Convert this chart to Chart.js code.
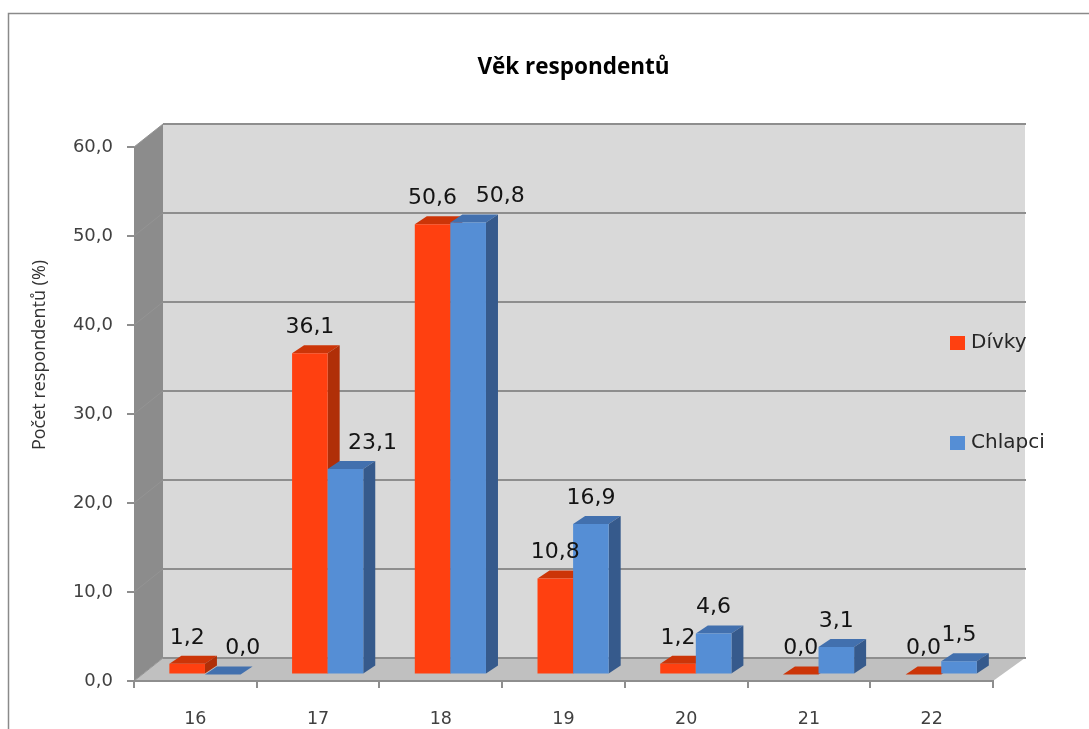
<!DOCTYPE html>
<html>
<head>
<meta charset="utf-8">
<title>Věk respondentů</title>
<script src="https://cdn.jsdelivr.net/npm/chart.js@4"></script>
<style>
  body { margin: 0; background: #fff; }
  canvas { display: block; }
</style>
</head>
<body>
<canvas id="ageChart" width="1089" height="729"></canvas>
<script>
// Data
const ages = ['16', '17', '18', '19', '20', '21', '22'];
const divky = [1.2, 36.1, 50.6, 10.8, 1.2, 0.0, 0.0];
const chlapci = [0.0, 23.1, 50.8, 16.9, 4.6, 3.1, 1.5];
const seriesNames = ['Dívky', 'Chlapci'];
const axisTitle = 'Počet respondentů (%)';

// Fake 3D look
const wallShift = { x: 29, y: -23 };   // front plane -> back wall
const barShift = { x: 9.6, y: -6.5 };  // front plane -> bar fronts
const barDepth = { x: 12, y: -8 };
const lineGrey = '#8e8e8e';
const faces = [
  { front: '#ff4010', side: '#b02f08', top: '#cc3508' },
  { front: '#558ed5', side: '#365a8c', top: '#4270ae' }
];
// a few value labels were dragged to the right so they don't collide
const labelNudge = { '1:0': 20, '1:1': 27, '1:2': 32 };
const LABEL_FONT = '"DejaVu Sans"';

function poly(ctx, pts, color) {
  ctx.fillStyle = color;
  ctx.beginPath();
  pts.forEach((p, i) => i ? ctx.lineTo(p[0], p[1]) : ctx.moveTo(p[0], p[1]));
  ctx.closePath();
  ctx.fill();
}

const walls = {
  id: 'walls',
  afterLayout(chart) {
    // title sits a bit right of the plot centre
    chart.titleBlock.left += 10;
    chart.titleBlock.right += 10;
  },
  beforeDraw(chart) {
    const { ctx, chartArea: a, scales: { y } } = chart;
    const dx = wallShift.x, dy = wallShift.y;
    const backR = a.right + 32;
    ctx.save();

    // outer frame
    ctx.strokeStyle = '#8a8a8a';
    ctx.lineWidth = 1.5;
    ctx.beginPath();
    ctx.moveTo(8.5, 729);
    ctx.lineTo(8.5, 13.5);
    ctx.lineTo(1089, 13.5);
    ctx.stroke();

    poly(ctx, [[a.left + dx, a.top + dy], [backR, a.top + dy], [backR, a.bottom + dy], [a.left + dx, a.bottom + dy]], '#d9d9d9');
    poly(ctx, [[a.left, a.top], [a.left + dx, a.top + dy], [a.left + dx, a.bottom + dy], [a.left, a.bottom]], '#8c8c8c');
    poly(ctx, [[a.left, a.bottom], [a.left + dx, a.bottom + dy], [backR, a.bottom + dy], [a.right, a.bottom]], '#c0c0c0');

    // gridlines on the back wall and their faint run along the side wall
    y.ticks.forEach(t => {
      const py = y.getPixelForValue(t.value);
      ctx.strokeStyle = '#949494';
      ctx.lineWidth = 1;
      ctx.beginPath();
      ctx.moveTo(a.left, py);
      ctx.lineTo(a.left + dx, py + dy);
      ctx.stroke();
      ctx.strokeStyle = lineGrey;
      ctx.lineWidth = 2;
      ctx.beginPath();
      ctx.moveTo(a.left + dx, py + dy);
      ctx.lineTo(backR + 1, py + dy);
      ctx.stroke();
    });
    ctx.restore();
  },
  beforeDatasetsDraw(chart) {
    const { ctx } = chart;
    const metas = chart.getSortedVisibleDatasetMetas();
    ctx.save();
    ctx.translate(barShift.x, barShift.y);
    // left series first so the right one covers its side face
    metas.forEach(meta => {
      const c = faces[meta.index];
      meta.data.forEach(bar => {
        const l = bar.x - bar.width / 2, r = bar.x + bar.width / 2;
        const dx = barDepth.x, dy = barDepth.y;
        poly(ctx, [[l, bar.y], [r, bar.y], [r + dx, bar.y + dy], [l + dx, bar.y + dy]], c.top);
        if (bar.base - bar.y > 0.5) {
          poly(ctx, [[r, bar.y], [r + dx, bar.y + dy], [r + dx, bar.base + dy], [r, bar.base]], c.side);
        }
      });
      meta.controller.draw();
    });

    // value labels with decimal comma
    ctx.font = '22px ' + LABEL_FONT;
    ctx.fillStyle = '#141414';
    ctx.textAlign = 'center';
    ctx.textBaseline = 'middle';
    metas.forEach(meta => {
      meta.data.forEach((bar, i) => {
        const v = chart.data.datasets[meta.index].data[i];
        const nudge = labelNudge[meta.index + ':' + i] || 0;
        ctx.fillText(v.toFixed(1).replace('.', ','), bar.x + nudge, bar.y - 26);
      });
    });
    ctx.restore();

    // axis title stands off-centre, so it is placed by hand
    ctx.save();
    ctx.translate(40, 355);
    ctx.rotate(-Math.PI / 2);
    ctx.font = '18px "Open Sans"';
    ctx.fillStyle = '#333';
    ctx.textAlign = 'center';
    ctx.textBaseline = 'middle';
    ctx.fillText(axisTitle, 0, 0);
    ctx.restore();

    // legend floats over the wall
    ctx.save();
    ctx.font = '20px ' + LABEL_FONT;
    ctx.textBaseline = 'middle';
    chart.data.datasets.forEach((ds, i) => {
      const ly = 343 + i * 100;
      ctx.fillStyle = ds.backgroundColor;
      ctx.fillRect(950, ly - 7, 15, 14);
      ctx.fillStyle = '#262626';
      ctx.fillText(ds.label, 971, ly);
    });
    ctx.restore();
    return false; // datasets are already drawn above
  }
};

new Chart(document.getElementById('ageChart'), {
  type: 'bar',
  data: {
    labels: ages,
    datasets: [
      { label: seriesNames[0], data: divky, backgroundColor: faces[0].front },
      { label: seriesNames[1], data: chlapci, backgroundColor: faces[1].front }
    ]
  },
  options: {
    responsive: false,
    animation: false,
    categoryPercentage: 0.58,
    barPercentage: 1,
    layout: { padding: { left: 0, right: 96, top: 0, bottom: 0 } },
    plugins: {
      legend: { display: false },
      tooltip: { enabled: false },
      title: {
        display: true,
        text: 'Věk respondentů',
        fullSize: false,
        color: '#000',
        font: { family: '"Open Sans"', size: 22.5, weight: 'bold', lineHeight: 1.2 },
        padding: { top: 54.5, bottom: 65.5 }
      }
    },
    scales: {
      x: {
        grid: { drawOnChartArea: false, color: lineGrey, tickLength: 7, lineWidth: 2 },
        border: { color: lineGrey, width: 2 },
        ticks: { padding: 21, color: '#404040', font: { family: LABEL_FONT, size: 17.5 }, maxRotation: 0 },
        afterFit(s) { s.height = 48; }
      },
      y: {
        min: 0,
        max: 60,
        grid: { drawOnChartArea: false, color: lineGrey, tickLength: 7, lineWidth: 2 },
        border: { display: false },
        ticks: {
          stepSize: 10,
          padding: 14,
          color: '#404040',
          font: { family: LABEL_FONT, size: 18 },
          callback: v => v.toFixed(1).replace('.', ',')
        },
        afterFit(s) { s.width = 134; }
      }
    }
  },
  plugins: [walls]
});
</script>
</body>
</html>
